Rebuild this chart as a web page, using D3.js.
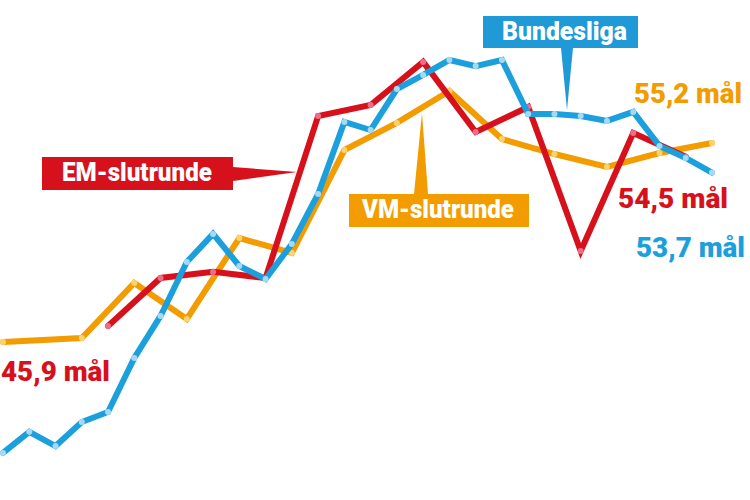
<!DOCTYPE html>
<html><head><meta charset="utf-8">
<script src="https://cdn.jsdelivr.net/npm/d3@7"></script>
<style>
html,body{margin:0;padding:0;background:#fff;}
svg{display:block;}
text{font-family:Roboto,"DejaVu Sans",sans-serif;font-weight:900;}
</style></head>
<body>
<script>
// Data (index = position on the time axis)
const bundesligaIdx = d3.range(0, 28);
const bundesligaVals = [39.45,40.52,39.8,41.02,41.53,44.28,46.41,49.15,50.58,48.95,48.29,50.07,52.61,56.27,55.86,57.94,58.66,59.42,59.11,59.42,56.67,56.67,56.57,56.32,56.78,55.05,54.44,53.7];
const vmIdx = [0,3,5,7,9,11,13,15,17,19,21,23,25,27];
const vmVals = [45.09,45.29,48.09,46.26,50.37,49.61,54.84,56.22,57.84,55.4,54.64,53.98,54.69,55.2];
const emIdx = [4,6,8,10,12,14,16,18,20,22,24,26];
const emVals = [45.9,48.34,48.65,48.34,56.57,57.13,59.32,55.76,57.03,49.71,55.71,54.5];
const seriesNames = ["VM-slutrunde","EM-slutrunde","Bundesliga"];
const valueLabels = ["55,2 mål","54,5 mål","53,7 mål","45,9 mål"];

const W = 750, H = 500;
const svg = d3.select("body").append("svg").attr("width", W).attr("height", H);

const x = d3.scaleLinear().domain([0, 27]).range([3, 712]);
const y = d3.scaleLinear().domain([45.9, 55.2]).range([326, 143]);

const C = {
  orange: "#f39c00", orangeDot: "#fcd36e",
  red: "#d7111c", redDot: "#ee6d8c",
  blue: "#1b9fdd", blueDot: "#a5daf6",
  blueBox: "#1f9ad6"
};

const series = [
  {idx: vmIdx, vals: vmVals, color: C.orange, dot: C.orangeDot},
  {idx: emIdx, vals: emVals, color: C.red, dot: C.redDot},
  {idx: bundesligaIdx, vals: bundesligaVals, color: C.blue, dot: C.blueDot}
];

const line = d3.line().x(d => x(d[0])).y(d => y(d[1]));

series.forEach(s => {
  const pts = s.idx.map((i, k) => [i, s.vals[k]]);
  const g = svg.append("g");
  g.append("path").attr("d", line(pts))
    .attr("fill", "none").attr("stroke", s.color)
    .attr("stroke-width", 6).attr("stroke-linejoin", "miter").attr("stroke-linecap", "round");
  g.selectAll("circle").data(pts).join("circle")
    .attr("cx", d => x(d[0])).attr("cy", d => y(d[1])).attr("r", 3)
    .attr("fill", s.dot);
});

// Callouts
function callout(text, color, box, pointer, tx, ty, tw) {
  const g = svg.append("g");
  g.append("path").attr("d", d3.line()(pointer) + "Z").attr("fill", color);
  g.append("rect").attr("x", box[0]).attr("y", box[1]).attr("width", box[2]).attr("height", box[3]).attr("fill", color);
  g.append("text").attr("x", tx).attr("y", ty).attr("fill", "#fff").attr("font-size", 25)
    .attr("textLength", tw).attr("lengthAdjust", "spacingAndGlyphs").text(text);
}
callout(seriesNames[2], C.blueBox, [483, 16, 155, 32], [[561,48],[573,48],[567,110]], 502, 40, 125);
callout(seriesNames[1], C.red, [42, 157, 191, 33], [[233,167],[233,181],[297,172]], 62, 181, 150);
callout(seriesNames[0], C.orange, [349, 194, 180, 33], [[414,194],[428,194],[422,113]], 362, 218, 152);

// Value labels
const vl = svg.append("g").attr("font-size", 28);
function vlabel(t, xx, yy, col, w) {
  vl.append("text").attr("x", xx).attr("y", yy).attr("fill", col)
    .attr("textLength", w).attr("lengthAdjust", "spacingAndGlyphs").text(t);
}
vlabel(valueLabels[0], 634, 103, C.orange, 108);
vlabel(valueLabels[1], 618, 208, C.red, 110);
vlabel(valueLabels[2], 636, 257, C.blue, 109);
vlabel(valueLabels[3], 1, 381, C.red, 109);
</script>
</body></html>
